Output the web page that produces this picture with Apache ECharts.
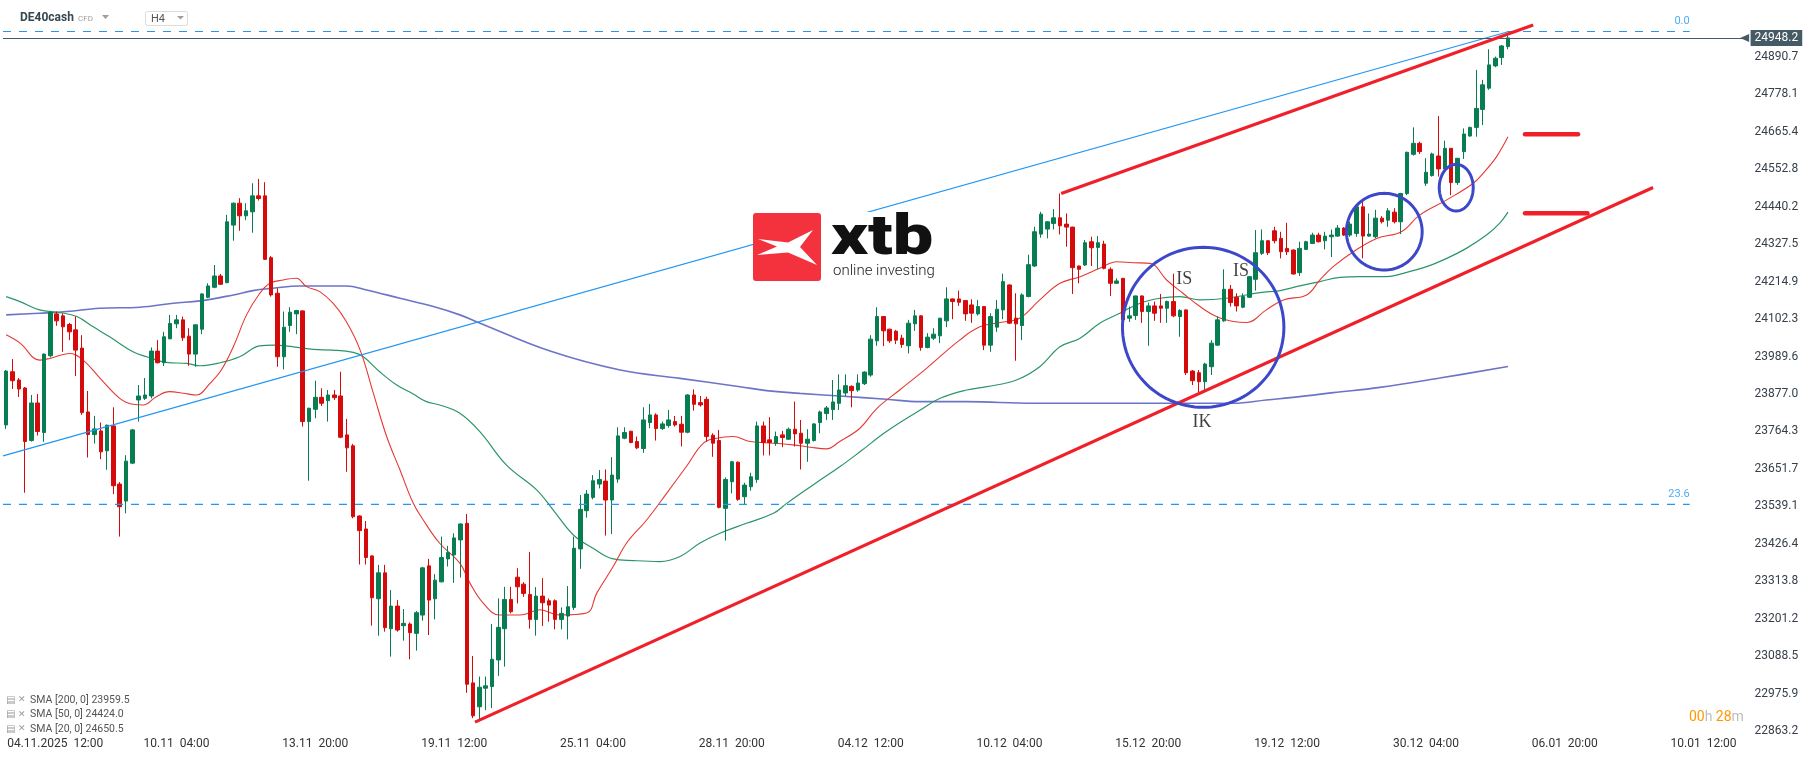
<!DOCTYPE html>
<html><head><meta charset="utf-8">
<script src="https://cdn.jsdelivr.net/npm/echarts@6/dist/echarts.min.js"></script>
<style>html,body{margin:0;padding:0;background:#fff}#c{width:1815px;height:761px}</style>
</head><body><div id="c"></div><script>
// ---- data (H4 candles: [open, close, low, high]) ----
const candles = [
[23784,23946,23772,23949],[23944,23917,23892,23982],[23919,23892,23868,23925],[23895,23734,23580,23898],[23737,23850,23734,23874],
[23850,23764,23752,23877],[23761,23997,23733,23999],[23992,24122,23987,24127],[24118,24097,24082,24125],[24112,24079,24004,24119],
[24086,24064,24039,24091],[24070,24009,23931,24110],[24015,23821,23814,24054],[23823,23755,23686,23886],[23755,23772,23728,23811],
[23766,23703,23681,23791],[23706,23783,23649,23785],[23781,23601,23576,23837],[23606,23538,23448,23612],[23555,23675,23518,23693],
[23669,23769,23666,23772],[23859,23871,23794,23904],[23864,23874,23859,23925],[23871,24006,23864,24017],[24006,23971,23969,24039],
[23971,24049,23961,24064],[24043,24089,24042,24115],[24088,24100,24075,24115],[24100,24046,24037,24110],[24051,23997,23962,24075],
[23997,24085,23959,24087],[24072,24178,24057,24180],[24168,24202,24165,24210],[24198,24232,24195,24265],[24232,24207,24205,24238],
[24212,24395,24210,24416],[24385,24451,24338,24453],[24451,24413,24368,24466],[24413,24428,24400,24451],[24425,24473,24362,24511],
[24473,24465,24459,24524],[24473,24282,24280,24514],[24287,24175,24170,24292],[24180,23989,23959,24195],[23989,24078,23951,24125],
[24083,24123,24064,24138],[24118,24128,24057,24130],[24127,23794,23779,24129],[23794,23834,23616,23836],[23831,23867,23804,23917],
[23867,23849,23841,23894],[23857,23874,23794,23889],[23874,23866,23859,23889],[23871,23747,23744,23944],[23754,23715,23643,23802],
[23721,23508,23503,23727],[23510,23466,23364,23512],[23471,23385,23364,23495],[23390,23264,23180,23392],[23261,23339,23150,23363],
[23339,23174,23162,23363],[23171,23239,23087,23287],[23239,23167,23162,23257],[23180,23187,23135,23230],[23185,23159,23079,23190],
[23157,23219,23105,23224],[23212,23354,23195,23357],[23360,23257,23152,23381],[23261,23317,23199,23335],[23312,23385,23310,23448],
[23381,23400,23358,23420],[23393,23444,23309,23458],[23438,23486,23325,23488],[23488,23004,22978,23516],[23008,22909,22902,23089],
[22936,22995,22896,23027],[22992,22999,22926,23027],[22997,23079,22932,23185],[23077,23175,23029,23262],[23171,23259,23057,23297],
[23259,23222,23217,23297],[23326,23297,23247,23353],[23305,23277,23267,23311],[23274,23199,23171,23402],[23199,23269,23150,23296],
[23269,23249,23179,23323],[23255,23242,23192,23262],[23255,23199,23169,23259],[23199,23217,23169,23235],[23209,23237,23139,23299],
[23235,23413,23227,23448],[23411,23530,23351,23573],[23526,23576,23505,23588],[23566,23616,23560,23633],[23606,23620,23593,23648],
[23615,23558,23451,23650],[23558,23633,23456,23687],[23621,23751,23610,23777],[23744,23761,23741,23777],[23765,23731,23729,23766],
[23734,23715,23711,23749],[23713,23799,23700,23837],[23791,23814,23774,23847],[23814,23773,23737,23819],[23773,23787,23769,23794],
[23782,23799,23776,23829],[23794,23784,23779,23811],[23786,23762,23719,23811],[23762,23874,23759,23876],[23874,23846,23827,23891],
[23851,23844,23839,23871],[23861,23749,23734,23869],[23753,23729,23688,23759],[23737,23536,23533,23769],[23533,23620,23436,23626],
[23613,23673,23578,23676],[23672,23560,23556,23674],[23568,23603,23546,23610],[23598,23628,23586,23640],[23620,23781,23610,23794],
[23781,23731,23692,23794],[23739,23731,23692,23807],[23729,23749,23721,23764],[23754,23746,23717,23766],[23741,23771,23739,23776],
[23771,23757,23719,23854],[23759,23729,23650,23799],[23729,23741,23673,23771],[23737,23787,23734,23789],[23791,23823,23759,23827],
[23818,23835,23799,23841],[23830,23853,23799,23919],[23849,23889,23829,23936],[23880,23902,23871,23936],[23900,23887,23837,23903],
[23889,23910,23884,23936],[23908,23943,23904,23945],[23934,24042,23929,24054],[24037,24110,24022,24138],[24110,24067,24021,24111],
[24072,24037,24031,24073],[24066,24039,24027,24070],[24045,24026,24016,24055],[24022,24090,23999,24100],[24088,24112,24067,24130],
[24112,24017,24007,24114],[24017,24048,24014,24060],[24045,24057,24039,24075],[24052,24105,24030,24106],[24097,24163,24078,24198],
[24163,24155,24102,24164],[24163,24153,24142,24188],[24158,24118,24097,24159],[24145,24120,24091,24162],[24118,24140,24113,24160],
[24140,24024,24009,24141],[24024,24110,24004,24120],[24078,24132,24064,24160],[24130,24215,24102,24239],[24205,24090,24088,24207],
[24105,24088,23977,24180],[24083,24175,24039,24180],[24170,24266,24168,24296],[24262,24365,24259,24380],[24358,24418,24347,24425],
[24373,24395,24345,24397],[24390,24407,24372,24433],[24407,24383,24357,24480],[24388,24379,24320,24420],[24379,24257,24178,24380],
[24262,24252,24210,24263],[24265,24332,24262,24340],[24335,24317,24262,24350],[24318,24332,24253,24352],[24328,24255,24252,24338],
[24252,24210,24172,24258],[24210,24217,24208,24225],[24225,24100,24078,24226],[24105,24112,24094,24140],[24113,24172,24100,24173],
[24172,24125,24091,24173],[24125,24142,24022,24152],[24142,24120,24097,24155],[24142,24135,24091,24178],[24135,24155,24091,24158],
[24155,24112,24108,24239],[24110,24128,24049,24132],[24130,23941,23934,24131],[23946,23917,23904,23949],[23941,23914,23881,23949],
[23914,23967,23889,23971],[23959,24030,23934,24039],[24024,24100,24021,24110],[24097,24192,24094,24252],[24192,24152,24140,24205],
[24168,24142,24125,24180],[24138,24170,24135,24180],[24168,24230,24166,24232],[24222,24302,24188,24370],[24300,24338,24295,24372],
[24338,24302,24295,24340],[24368,24338,24330,24380],[24345,24305,24285,24365],[24315,24305,24295,24392],[24310,24238,24236,24312],
[24242,24315,24232,24335],[24312,24335,24310,24338],[24330,24355,24328,24362],[24355,24335,24333,24362],[24338,24352,24312,24365],
[24350,24355,24289,24372],[24352,24376,24350,24385],[24376,24355,24352,24379],[24355,24388,24350,24395],[24360,24440,24350,24443],
[24440,24352,24285,24459],[24352,24358,24350,24420],[24350,24406,24345,24431],[24406,24395,24390,24412],[24400,24428,24380,24436],
[24424,24395,24390,24436],[24395,24480,24358,24482],[24480,24604,24475,24606],[24598,24631,24594,24679],[24631,24606,24599,24636],
[24511,24544,24503,24586],[24534,24599,24531,24603],[24593,24554,24531,24713],[24554,24616,24551,24639],[24616,24513,24475,24617],
[24513,24586,24506,24587],[24606,24659,24584,24676],[24653,24679,24651,24681],[24679,24736,24651,24852],[24733,24807,24686,24822],
[24797,24867,24792,24914],[24864,24887,24860,24892],[24889,24924,24867,24927],[24922,24948.2,24914,24958]
];
const slotCount = 276;                     // candle slots on the time axis (incl. future space)
const xTickLabels = ['04.11.2025  12:00','10.11  04:00','13.11  20:00','19.11  12:00','25.11  04:00','28.11  20:00',
  '04.12  12:00','10.12  04:00','15.12  20:00','19.12  12:00','30.12  04:00','06.01  20:00','10.01  12:00'];
const xTickFirst = 5, xTickStep = 22;
const yTicks = [22863.2,22975.9,23088.5,23201.2,23313.8,23426.4,23539.1,23651.7,23764.3,23877.0,23989.6,
  24102.3,24214.9,24327.5,24440.2,24552.8,24665.4,24778.1,24890.7];
const lastPrice = 24948.2;
// moving averages: [slot index, value]
const sma20 = [[0,24055],[2.2,24030],[5.3,23979],[6.9,23984],[10.1,23999],[12.2,23979],[14.9,23924],[18,23864],[20.1,23846],[21.7,23844],[23.8,23869],[25.9,23884],[28.1,23879],[30.2,23874],[32.3,23909],[34.1,23949],[36,24019],[38.1,24115],[40.2,24180],[41.8,24210],[43.9,24220],[46,24225],[47.6,24200],[49.7,24185],[51.8,24150],[53.9,24095],[56.1,24009],[58.2,23879],[60.3,23749],[62.4,23649],[64.5,23549],[66.1,23498],[68.7,23428],[71.9,23368],[73.5,23308],[75.6,23248],[78.2,23212],[81.4,23212],[84.6,23228],[87.7,23212],[92,23218],[93.6,23278],[96.2,23358],[98.3,23428],[101.5,23498],[104.7,23579],[107.8,23659],[110.5,23729],[112.6,23744],[115.2,23749],[117.9,23734],[121.6,23729],[124.7,23724],[127.4,23717],[130,23712],[132.1,23734],[135.3,23774],[138,23834],[141.6,23889],[145.9,23955],[151.1,24039],[154.3,24079],[157.5,24092],[160.6,24105],[163.8,24160],[167,24210],[170.2,24230],[173.3,24255],[176,24275],[178.6,24272],[181.3,24270],[183.9,24220],[186.5,24180],[189.2,24140],[191.8,24110],[194.5,24095],[196.6,24092],[199.7,24130],[202.4,24160],[206.1,24175],[208.2,24220],[210.3,24260],[213.5,24305],[217.2,24345],[221.1,24365],[224,24415],[228.3,24461],[232.5,24511],[234.3,24546],[236.2,24591],[238,24650.5]];
const sma50 = [[0,24170],[2.2,24155],[5.3,24130],[8.5,24122],[11.2,24110],[13.8,24079],[16.4,24049],[20.1,24004],[22.3,23989],[25.4,23972],[28.6,23969],[30.7,23962],[33.9,23971],[37,23989],[40.2,24022],[42.3,24024],[45.5,24019],[48.7,24011],[51.8,24009],[55,24002],[56.6,23989],[59.2,23944],[61.9,23904],[64.5,23877],[66.6,23854],[68.7,23844],[71.9,23819],[75.1,23763],[79.3,23663],[84.1,23588],[86.7,23528],[89.9,23453],[93,23413],[96.2,23381],[99.4,23376],[103.6,23373],[106.8,23388],[109.9,23428],[113.1,23458],[117.3,23488],[121.6,23518],[123.7,23548],[126.3,23583],[129,23618],[132.1,23658],[135.3,23703],[139.5,23764],[144.8,23828],[148,23864],[152.2,23889],[155.4,23899],[160.1,23919],[163.8,23959],[167,24019],[170.2,24045],[173.3,24090],[176.5,24120],[179.7,24150],[182.8,24165],[186,24170],[189.2,24160],[193.4,24165],[198.7,24182],[201.9,24188],[205,24202],[208.2,24215],[211.4,24228],[214.5,24230],[218.8,24230],[221.4,24240],[225.1,24260],[228.3,24285],[231.4,24315],[234.6,24355],[236.7,24391],[238,24424]];
const sma200 = [[0,24115],[5.3,24120],[9.6,24125],[14.8,24135],[21.2,24138],[26.5,24150],[30.7,24157],[36,24175],[39.1,24188],[42.3,24195],[46.5,24202],[53.9,24202],[57.1,24190],[62.4,24165],[67.7,24140],[71.9,24115],[75.1,24090],[86.2,24006],[97.3,23949],[106.8,23924],[116.3,23899],[120.5,23887],[125.8,23879],[132.1,23871],[139.5,23861],[144.8,23854],[152.2,23854],[162.8,23849],[173.3,23849],[183.9,23849],[194.5,23849],[199.7,23859],[205,23869],[210.3,23881],[217.7,23897],[227.2,23925],[238,23959.5]];
const smaLegend = [['SMA [200, 0]','23959.5'],['SMA [50, 0]','24424.0'],['SMA [20, 0]','24650.5']];
// drawing-tool annotations in chart units: [slot index, price]
const fibLevels = [['0.0',24967.5],['23.6',23545.2]];
const fibEnd = 266.8;
const fibDiagonal = [[-0.5,23691],[238,24966.8]];
const channelLow = [[74.3,22890],[261,24498]];
const channelHigh = [[167.2,24480],[242,24987]];
const levelMarks = [[[240.7,24658],[249.1,24658]],[[240.7,24421],[250.6,24421]]];
const circles = [[189.7,24077.6,12.79,240.7],[218.4,24365.2,6.0,115.3],[229.8,24497.6,2.69,70.1]]; // cx, cy, rx, ry
const patternLabels = [['IS',186.7,24223],['IS',195.7,24247],['IK',189.5,23793]];

const categories = Array.from({length: slotCount}, (_, i) => String(i));
const chart = echarts.init(document.getElementById('c'), null, {renderer: 'canvas'});
const FONT = 'Roboto';
const lineSeries = (data, color, width, extra) => Object.assign({
  type: 'line', xAxisIndex: 1, yAxisIndex: 0, data: data, symbol: 'none', silent: true, z: 2,
  lineStyle: {color: color, width: width}
}, extra || {});

const series = [
  lineSeries(sma200, '#6c74c8', 1.6, {smooth: 0.4}),
  lineSeries(sma50, '#2c9567', 1.2, {smooth: 0.4}),
  lineSeries(sma20, '#e53935', 1.1, {smooth: 0.4}),
  {
    type: 'candlestick', data: candles, barWidth: 4, z: 3,
    itemStyle: {color: '#077d51', color0: '#d50b0b', borderColor: '#077d51', borderColor0: '#d50b0b', borderWidth: 1},
    markLine: {
      silent: true, animation: false, symbol: ['none', 'path://M0,0L10,0L5,10Z'], symbolSize: [8, 9],
      data: [{yAxis: lastPrice}],
      lineStyle: {color: '#455a64', width: 1, type: 'solid'},
      itemStyle: {color: '#455a64'},
      label: {position: 'end', formatter: lastPrice.toFixed(1), backgroundColor: '#455a64', color: '#fff',
        padding: [2, 4, 2, 4], fontSize: 12, fontFamily: FONT, distance: 6}
    }
  },
  lineSeries(fibDiagonal, '#2196f3', 1.2, {z: 4}),
  ...fibLevels.map(l => lineSeries([[-0.5, l[1]], [fibEnd, l[1]]], '#2196f3', 1.2, {z: 4, lineStyle: {color: '#2196f3', width: 1.2, type: [8, 8]}})),
  {
    type: 'scatter', xAxisIndex: 1, yAxisIndex: 0, symbolSize: 1, itemStyle: {color: 'rgba(0,0,0,0)'}, silent: true, z: 6,
    data: fibLevels.map(l => ({name: l[0], value: [fibEnd, l[1]]})),
    label: {show: true, position: 'top', align: 'right', distance: 4, formatter: '{b}', color: '#2196f3', fontSize: 11, fontFamily: FONT}
  },
  lineSeries(channelLow, '#f0202a', 3.2, {z: 5}),
  lineSeries(channelHigh, '#f0202a', 3.2, {z: 5}),
  ...levelMarks.map(m => lineSeries(m, '#f0202a', 4.5, {z: 5, lineStyle: {color: '#f0202a', width: 4.5, cap: 'round'}})),
  {
    type: 'custom', xAxisIndex: 1, yAxisIndex: 0, data: circles, silent: true, z: 6, clip: false,
    renderItem: function (params, api) {
      const cx = api.value(0), cy = api.value(1), rx = api.value(2), ry = api.value(3);
      const pts = [];
      for (let k = 0; k <= 120; k++) {
        const a = k / 120 * Math.PI * 2;
        pts.push(api.coord([cx + rx * Math.cos(a), cy + ry * Math.sin(a)]));
      }
      return {type: 'polyline', shape: {points: pts}, style: {stroke: '#3d47c9', lineWidth: 3, fill: null}};
    }
  },
  {
    type: 'scatter', xAxisIndex: 1, yAxisIndex: 0, symbolSize: 1, itemStyle: {color: 'rgba(0,0,0,0)'}, silent: true, z: 7,
    data: patternLabels.map(p => ({name: p[0], value: [p[1], p[2]]})),
    label: {show: true, position: 'inside', formatter: '{b}', color: '#111', fontSize: 18, fontFamily: 'Liberation Serif'}
  }
];

const gray = '#9e9e9e';
const graphic = [
  {type: 'text', x: 20, y: 18, z: 100, style: {text: 'DE40cash', font: 'bold 12px Roboto', fill: '#37474f', textVerticalAlign: 'middle'}},
  {type: 'text', x: 78, y: 19, z: 100, style: {text: 'CFD', font: '8px Roboto', fill: gray, textVerticalAlign: 'middle'}},
  {type: 'polygon', z: 100, shape: {points: [[102, 15], [109, 15], [105.5, 19]]}, style: {fill: gray}},
  {type: 'rect', z: 100, shape: {x: 145.5, y: 11.5, width: 42, height: 14, r: 2}, style: {fill: '#fff', stroke: '#dcdcdc', lineWidth: 1}},
  {type: 'text', x: 151, y: 19, z: 101, style: {text: 'H4', font: '11px Roboto', fill: '#555', textVerticalAlign: 'middle'}},
  {type: 'polygon', z: 101, shape: {points: [[177, 16], [184, 16], [180.5, 19.5]]}, style: {fill: gray}},
  // logo
  {type: 'rect', z: 100, shape: {x: 753, y: 212, width: 185, height: 72}, style: {fill: '#fff'}},
  {type: 'rect', z: 101, shape: {x: 753, y: 213, width: 68, height: 68, r: 3}, style: {fill: '#f3323e'}},
  {type: 'polygon', z: 102, shape: {points: [[758, 239], [788, 242.5], [813, 230], [800, 247], [817, 265], [788, 252.5], [757, 255], [777, 246.5]]}, style: {fill: '#fff'}},
  {type: 'text', x: 831, y: 240, scaleX: 1.2, scaleY: 0.92, originX: 0, originY: 0, z: 102,
    style: {text: 'xtb', font: '900 60px Roboto', fill: '#111', textVerticalAlign: 'middle'}},
  {type: 'text', x: 833, y: 271, z: 102, style: {text: 'online investing', font: '300 15px Roboto', fill: '#222', textVerticalAlign: 'middle'}},
  // countdown
  {type: 'text', x: 1689, y: 717, z: 100, style: {text: '{a|00}{b|h} {a|28}{b|m}', textVerticalAlign: 'middle',
    rich: {a: {fill: '#ff9800', font: '14px Roboto'}, b: {fill: '#bdbdbd', font: '14px Roboto'}}}}
];
smaLegend.forEach((l, k) => {
  const y = 700 + k * 14.5;
  graphic.push({type: 'text', x: 6, y: y, z: 100, style: {text: '▤', font: '10px DejaVu Sans', fill: '#9a9a9a', textVerticalAlign: 'middle'}});
  graphic.push({type: 'text', x: 18, y: y, z: 100, style: {text: '✕', font: 'bold 9px DejaVu Sans', fill: '#9a9a9a', textVerticalAlign: 'middle'}});
  graphic.push({type: 'text', x: 30, y: y, z: 100, style: {text: l[0] + ' ' + l[1], font: '10.5px Roboto', fill: '#555', textVerticalAlign: 'middle'}});
});

chart.setOption({
  animation: false,
  backgroundColor: '#fff',
  grid: {left: 3, top: 10, width: 1741.6, height: 726, containLabel: false},
  xAxis: [
    {
      type: 'category', data: categories, boundaryGap: true,
      axisLine: {show: false}, axisTick: {show: false}, splitLine: {show: false},
      axisLabel: {
        interval: (i) => i >= xTickFirst && (i - xTickFirst) % xTickStep === 0,
        formatter: (v, i) => {
          const k = (Number(v) - xTickFirst) / xTickStep;
          const t = xTickLabels[k] || '';
          return k === 0 ? '{first|' + t + '}' : t;
        },
        rich: {first: {padding: [0, 0, 0, 35], color: '#333', fontSize: 12, fontFamily: FONT}},
        color: '#333', fontSize: 12, fontFamily: FONT, margin: 2
      }
    },
    {type: 'value', min: -0.5, max: slotCount - 0.5, show: false}
  ],
  yAxis: {
    type: 'value', position: 'right', min: 22848.2, max: 25032.1, scale: true,
    axisLine: {show: false}, axisTick: {show: false}, splitLine: {show: false},
    axisLabel: {customValues: yTicks, formatter: (v) => Number(v).toFixed(1), color: '#37404a', fontSize: 12, fontFamily: FONT, margin: 10}
  },
  series: series,
  graphic: graphic
});
</script></body></html>
